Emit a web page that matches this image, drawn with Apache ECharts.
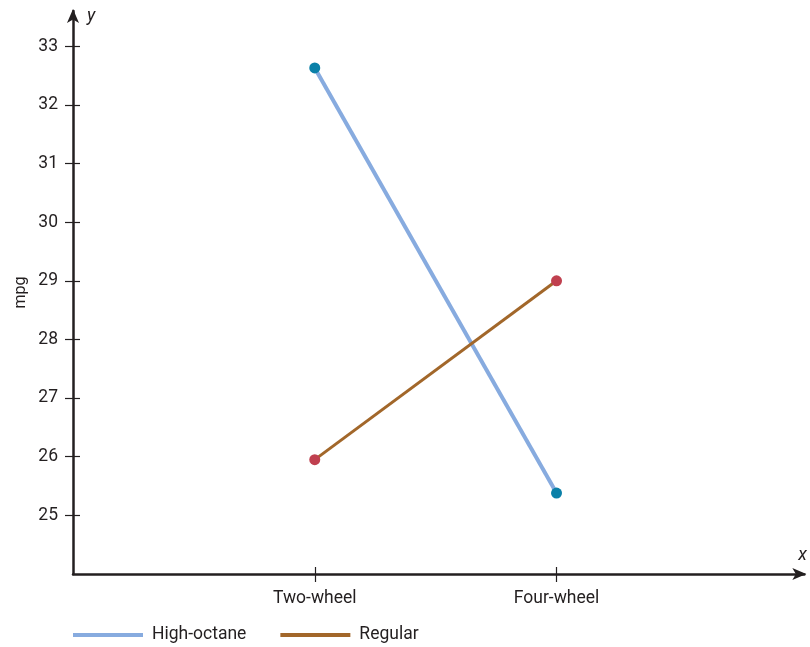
<!DOCTYPE html>
<html><head><meta charset="utf-8">
<script src="https://cdn.jsdelivr.net/npm/echarts@6/dist/echarts.min.js"></script>
<style>html,body{margin:0;padding:0;background:#fff}#c{width:810px;height:647px}</style>
</head><body><div id="c"></div>
<script>
var categories = ['Two-wheel', 'Four-wheel'];
var catPos = [1, 2];
var highOctane = [32.63, 25.38];
var regular = [25.95, 29.0];
var yTicks = [25, 26, 27, 28, 29, 30, 31, 32, 33];

var FONT = '"Liberation Sans Narrow", "Roboto", sans-serif';
var axisColor = '#231f20';
var chart = echarts.init(document.getElementById('c'));
function pts(vals){ return vals.map(function(v,i){ return [catPos[i], v]; }); }
var yBase = {
  type: 'value', min: 24, max: 33.6, interval: 1,
  splitLine: {show: false},
  axisLine: {show: true, lineStyle: {color: axisColor, width: 2.5}},
};
var xBase = {
  type: 'value', min: 0, max: 3.025, interval: 1,
  splitLine: {show: false},
  axisLine: {show: true, onZero: false, lineStyle: {color: axisColor, width: 2.5}},
};
chart.setOption({
  animation: false,
  textStyle: {fontFamily: FONT},
  grid: {left: 73, right: 5, top: 11, bottom: 73, containLabel: false},
  xAxis: [
    Object.assign({}, xBase, {
      name: 'x', nameLocation: 'end', nameGap: -6,
      nameTextStyle: {fontStyle: 'italic', fontSize: 18, color: axisColor, fontFamily: FONT, verticalAlign: 'bottom', padding: [0,0,10,0]},
      axisLine: {show: true, onZero: false, symbol: ['none', 'arrow'], symbolSize: [9, 14], symbolOffset: [0, 2], lineStyle: {color: axisColor, width: 2.5}},
      axisTick: {show: true, length: 8, customValues: catPos, lineStyle: {color: axisColor, width: 1.2}},
      axisLabel: {show: true, customValues: catPos, margin: 16, fontSize: 17.5, color: axisColor, fontFamily: FONT,
        formatter: function(v){ var i = catPos.indexOf(v); return i >= 0 ? categories[i] : ''; }}
    }),
    Object.assign({}, xBase, {
      position: 'bottom',
      axisLine: {show: false, onZero: false},
      axisTick: {show: true, inside: true, length: 7, customValues: catPos, lineStyle: {color: axisColor, width: 1.2}},
      axisLabel: {show: false}
    })
  ],
  yAxis: [
    Object.assign({}, yBase, {
      name: 'y', nameLocation: 'end', nameGap: -14,
      nameTextStyle: {fontStyle: 'italic', fontSize: 18, color: axisColor, fontFamily: FONT, align: 'left', padding: [0,0,0,14]},
      axisLine: {show: true, symbol: ['none', 'arrow'], symbolSize: [9, 14], symbolOffset: [0, 2], lineStyle: {color: axisColor, width: 2.5}},
      axisTick: {show: true, length: 8, customValues: yTicks, lineStyle: {color: axisColor, width: 1.2}},
      axisLabel: {show: true, customValues: yTicks, margin: 15, fontSize: 17.5, color: axisColor, fontFamily: FONT}
    }),
    Object.assign({}, yBase, {
      position: 'left',
      name: 'mpg', nameLocation: 'middle', nameGap: 44, nameRotate: 90,
      nameTextStyle: {fontSize: 16, color: axisColor, fontFamily: FONT},
      axisLine: {show: false},
      axisTick: {show: true, inside: true, length: 7, customValues: yTicks, lineStyle: {color: axisColor, width: 1.2}},
      axisLabel: {show: false}
    })
  ],
  legend: {
    left: 68, bottom: -2, itemGap: 34, itemWidth: 70, itemHeight: 4, icon: 'rect',
    textStyle: {fontSize: 17.5, color: axisColor, fontFamily: FONT, padding: [0,0,0,4]},
    data: [
      {name: 'High-octane', itemStyle: {color: '#87abdf'}},
      {name: 'Regular', itemStyle: {color: '#a2672a'}}
    ]
  },
  series: [
    {name: 'High-octane', type: 'line', data: pts(highOctane), symbol: 'circle', symbolSize: 11,
     lineStyle: {color: '#87abdf', width: 4}, itemStyle: {color: '#0a80a8'}, z: 3},
    {name: 'Regular', type: 'line', data: pts(regular), symbol: 'circle', symbolSize: 11,
     lineStyle: {color: '#a2672a', width: 3}, itemStyle: {color: '#c0404f'}, z: 4}
  ]
});
</script></body></html>
